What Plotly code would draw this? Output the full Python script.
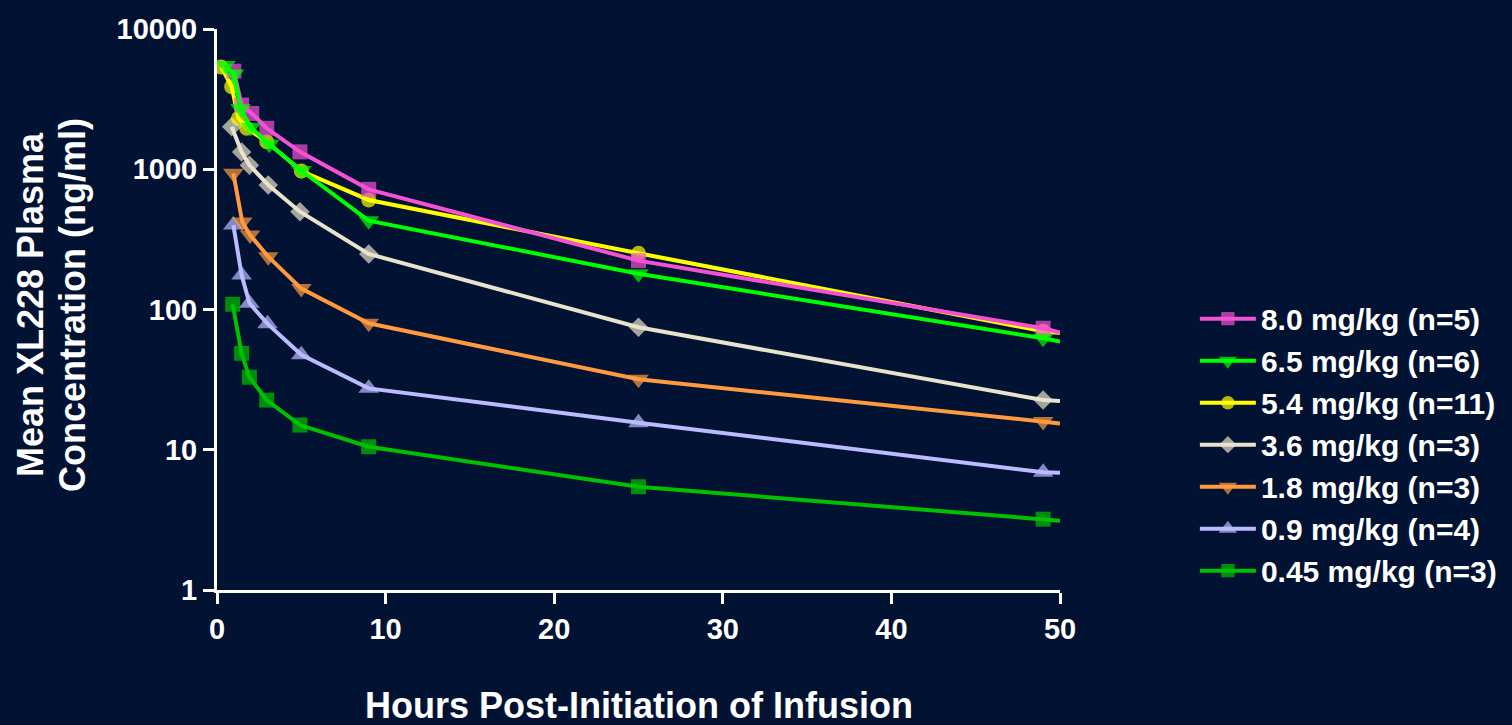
import plotly.graph_objects as go

# ---- data ----
labels = ["8.0 mg/kg (n=5)", "6.5 mg/kg (n=6)", "5.4 mg/kg (n=11)", "3.6 mg/kg (n=3)",
          "1.8 mg/kg (n=3)", "0.9 mg/kg (n=4)", "0.45 mg/kg (n=3)"]

t_80 = [1.0, 1.46, 2.06, 2.95, 4.92, 9, 25, 49, 50]
c_80 = [5000, 2870, 2500, 1960, 1330, 719, 223, 73.5, 68.4]

t_65 = [0.5, 1.0, 1.4, 2.0, 3.1, 5, 9, 25, 49, 50]
c_65 = [5500, 4780, 2700, 1990, 1510, 980, 430, 180, 62.3, 59]

t_54 = [0.25, 0.87, 1.27, 1.76, 2.95, 5, 9, 25, 49, 50]
c_54 = [5360, 3880, 2310, 1960, 1570, 972, 604, 252, 70, 68]

t_36 = [0.87, 1.46, 1.92, 3.04, 4.92, 9, 25, 49, 50]
c_36 = [2010, 1330, 1070, 773, 498, 249, 74.7, 22.6, 22.3]

t_18 = [0.97, 1.5, 1.96, 3.04, 5, 9, 25, 49, 50]
c_18 = [935, 420, 340, 238, 141, 79.8, 31.8, 15.9, 15.4]

t_09 = [0.97, 1.46, 1.92, 3.0, 5, 9, 25, 49, 50]
c_09 = [400, 176, 111, 79, 47.5, 27.4, 15.6, 6.9, 6.85]

t_045 = [0.93, 1.46, 1.92, 2.95, 4.92, 9, 25, 49, 50]
c_045 = [109, 48.7, 32.9, 22.6, 15.0, 10.5, 5.45, 3.2, 3.12]

x_ticks = [0, 10, 20, 30, 40, 50]
y_ticks = [1, 10, 100, 1000, 10000]
y_tick_text = ["1", "10", "100", "1000", "10000"]

# ---- styling ----
BG = "#011233"
FONT = "Liberation Sans, Arial, sans-serif"

series = [
    # (label index, times, conc, color, symbol, size, legend rank)
    (6, t_045, c_045, "#00C000", "square", 15, 7),
    (5, t_09, c_09, "#BBBBFF", "triangle-up", 18, 6),
    (4, t_18, c_18, "#FF9A40", "triangle-down", 18, 5),
    (3, t_36, c_36, "#E8E3CA", "diamond", 15, 4),
    (2, t_54, c_54, "#FFFF00", "circle", 15, 3),
    (0, t_80, c_80, "#F451D4", "square", 15, 1),
    (1, t_65, c_65, "#00FF00", "triangle-down", 18, 2),
]

fig = go.Figure()
for idx, t, c, col, sym, sz, rank in series:
    sizes = [sz] * (len(t) - 1) + [0]
    fig.add_trace(go.Scatter(
        x=t, y=c, name=labels[idx], mode="lines+markers",
        line=dict(color=col, width=4),
        marker=dict(color=col, symbol=sym, size=sizes, line=dict(width=0)),
        legendrank=rank,
    ))

axis_common = dict(
    showline=True, linecolor="white", linewidth=3,
    ticks="outside", tickcolor="white", tickwidth=3, ticklen=11,
    showgrid=False, zeroline=False,
    tickfont=dict(family=FONT, size=29, color="white", weight="bold"),
)

title_font = dict(family=FONT, size=36, color="white", weight="bold")

fig.update_layout(
    width=1512, height=725,
    paper_bgcolor=BG, plot_bgcolor=BG,
    margin=dict(l=217, r=452, t=29, b=135, autoexpand=False),
    xaxis=dict(range=[0, 50], tickvals=x_ticks, **axis_common),
    yaxis=dict(type="log", range=[0, 4], tickvals=y_ticks, ticktext=y_tick_text,
               **axis_common),
    legend=dict(x=1.16, y=0.259, xanchor="left", yanchor="middle",
                bgcolor="rgba(0,0,0,0)", itemwidth=56,
                font=dict(family=FONT, size=30, color="white", weight="bold")),
    showlegend=True,
    annotations=[
        dict(text="Hours Post-Initiation of Infusion", xref="paper", yref="paper",
             x=0.5, y=-0.206, xanchor="center", yanchor="middle", showarrow=False,
             font=title_font),
        dict(text="Mean XL228 Plasma", xref="paper", yref="paper",
             x=-0.2218, y=0.508, xanchor="center", yanchor="middle", showarrow=False,
             textangle=-90, font=title_font),
        dict(text="Concentration (ng/ml)", xref="paper", yref="paper",
             x=-0.172, y=0.508, xanchor="center", yanchor="middle", showarrow=False,
             textangle=-90, font=title_font),
    ],
)

fig.write_html(
    "out.html",
    config={"displayModeBar": False},
    post_script="document.body.style.margin='0';document.body.style.background='#011233';",
)
